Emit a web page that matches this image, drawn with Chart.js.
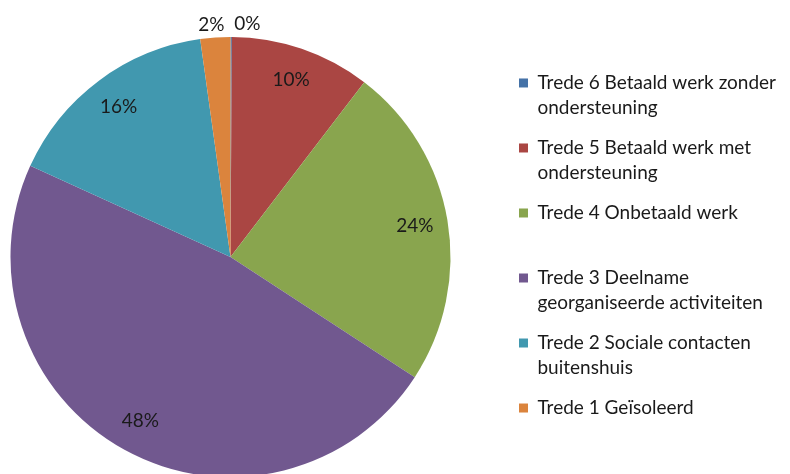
<!DOCTYPE html>
<html>
<head>
<meta charset="utf-8">
<script src="https://cdn.jsdelivr.net/npm/chart.js@4.4.1/dist/chart.umd.min.js"></script>
<style>
  html, body { margin: 0; padding: 0; background: #fff; overflow: hidden; }
  #wrap { position: relative; width: 790px; height: 480px; }
</style>
</head>
<body>
<div id="wrap"><canvas id="pie"></canvas></div>
<script>
const labels = [
    ['Trede 6 Betaald werk zonder', 'ondersteuning'],
    ['Trede 5 Betaald werk met', 'ondersteuning'],
    ['Trede 4 Onbetaald werk', ''],
    ['Trede 3 Deelname', 'georganiseerde activiteiten'],
    ['Trede 2 Sociale contacten', 'buitenshuis'],
    ['Trede 1 Geïsoleerd', '']
];
const shares = [0.1, 10.3, 23.8, 47.6, 16.0, 2.2];
const percentLabels = ['0%', '10%', '24%', '48%', '16%', '2%'];
const sliceColors = ['#4572A7', '#AA4643', '#89A54E', '#71588F', '#4198AF', '#DB843D'];

const labelFont = '19px Lato, "Open Sans", sans-serif';

// the pie sits further left and higher than the legend would leave it
const shiftPie = {
    id: 'shiftPie',
    afterLayout(chart) {
        const a = chart.chartArea;
        a.left -= 43;
        a.top -= 8;
        a.width = a.right - a.left;
        a.height = a.bottom - a.top;
    }
};

// percentages inside the big slices, outside (above) the tiny ones
const percentPlugin = {
    id: 'percentLabels',
    afterDatasetsDraw(chart) {
        const ctx = chart.ctx;
        const meta = chart.getDatasetMeta(0);
        ctx.save();
        ctx.font = labelFont;
        ctx.fillStyle = '#1a1a1a';
        ctx.textBaseline = 'middle';
        meta.data.forEach((arc, i) => {
            const mid = (arc.startAngle + arc.endAngle) / 2;
            const small = shares[i] < 5;
            const r = small ? arc.outerRadius + 13 : arc.outerRadius * 0.85;
            let x = arc.x + Math.cos(mid) * r;
            const y = arc.y + Math.sin(mid) * r;
            if (small && Math.cos(mid) >= 0) {
                ctx.textAlign = 'left';
                x += 3;
            } else if (small) {
                ctx.textAlign = 'center';
                x -= 3;
            } else {
                ctx.textAlign = 'center';
            }
            ctx.fillText(percentLabels[i], x, y);
        });
        ctx.restore();
    }
};

new Chart('pie', {
    type: 'pie',
    data: {
        labels: labels,
        datasets: [{
            data: shares,
            backgroundColor: sliceColors,
            borderWidth: 0
        }]
    },
    options: {
        responsive: true,
        maintainAspectRatio: false,
        animation: false,
        layout: { padding: { top: 45, bottom: 3, left: 0, right: 4 } },
        plugins: {
            tooltip: { enabled: false },
            legend: {
                position: 'right',
                labels: {
                    boxWidth: 9,
                    boxHeight: 9,
                    padding: 15,
                    color: '#1a1a1a',
                    font: { family: 'Lato, "Open Sans", sans-serif', size: 19, lineHeight: 1.316 }
                }
            }
        }
    },
    plugins: [shiftPie, percentPlugin]
});
</script>
</body>
</html>
